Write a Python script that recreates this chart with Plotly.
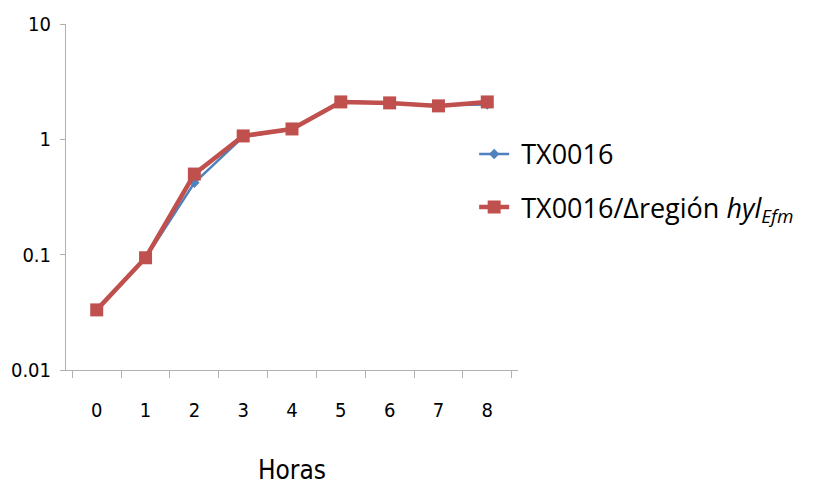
import plotly.graph_objects as go

horas = ["0", "1", "2", "3", "4", "5", "6", "7", "8"]
tx0016 = [0.033, 0.093, 0.42, 1.05, 1.23, 2.15, 2.07, 1.97, 2.0]
tx0016_delta = [0.0332, 0.094, 0.50, 1.07, 1.23, 2.11, 2.07, 1.95, 2.11]
y_tickvals = [0.01, 0.1, 1, 10]
y_ticktext = ["0.01", "0.1", "1", "10"]

NB = "\u00a0"

fig = go.Figure()
fig.add_trace(go.Scatter(
    x=horas, y=tx0016, mode="lines+markers", name=NB + "TX0016",
    legendgroup="a",
    line=dict(color="#4f81bd", width=2.5),
    marker=dict(symbol="diamond", size=8, color="#4f81bd"),
))
fig.add_trace(go.Scatter(
    x=horas, y=tx0016_delta, mode="lines+markers",
    name=NB + "TX0016/Δregión <i>hyl</i><sub><i>Efm</i></sub>",
    legendgroup="b",
    line=dict(color="#c0504d", width=4.5),
    marker=dict(symbol="square", size=13, color="#c0504d"),
))

# page body has an 8px margin: figure is offset by 8px
fig.update_layout(
    width=819, height=477,
    margin=dict(l=58, r=309, t=16, b=115),
    paper_bgcolor="white", plot_bgcolor="white",
    font=dict(family="Liberation Sans", color="black"),
    showlegend=True,
    legend=dict(
        x=0.903, y=0.694, xanchor="left", yanchor="top",
        font=dict(family="Open Sans", size=27, color="black"),
        tracegroupgap=15,
        bgcolor="rgba(0,0,0,0)",
    ),
    xaxis=dict(
        type="category", tickson="boundaries", automargin=False,
        showline=True, linecolor="#b0b0b0", linewidth=1,
        ticks="outside", ticklen=7, tickcolor="#b0b0b0",
        showgrid=False, zeroline=False,
        tickfont=dict(family="DejaVu Sans Condensed", size=20, color="black"),
        ticklabelstandoff=22,
        title=dict(text="Horas", font=dict(family="DejaVu Sans Condensed", size=26, color="black"), standoff=40),
    ),
    yaxis=dict(
        type="log", range=[-2, 1], automargin=False,
        tickvals=y_tickvals, ticktext=y_ticktext,
        showline=True, linecolor="#b0b0b0", linewidth=1,
        ticks="outside", ticklen=5, tickcolor="#b0b0b0",
        showgrid=False, zeroline=False,
        tickfont=dict(family="DejaVu Sans Condensed", size=20, color="black"),
        ticklabelstandoff=5,
    ),
)

fig.write_html("out.html")
